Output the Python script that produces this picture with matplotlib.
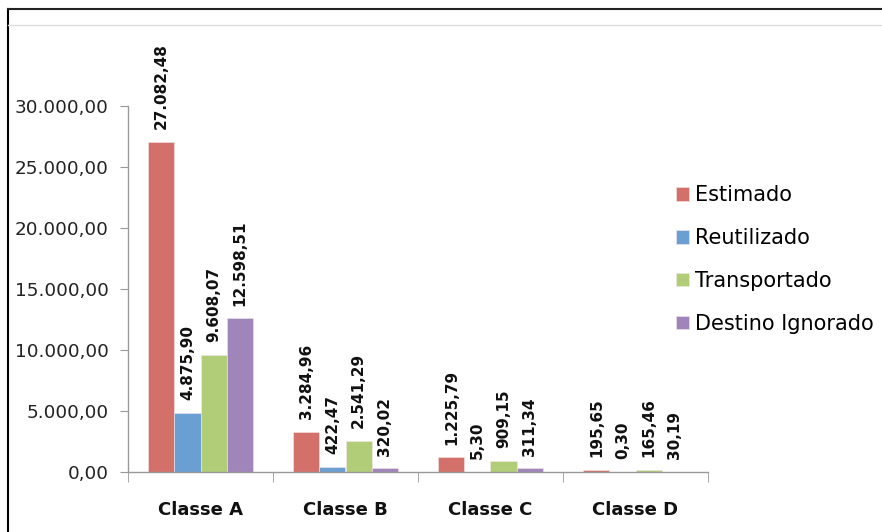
import numpy as np
import matplotlib.pyplot as plt
from matplotlib.lines import Line2D

# Quantities per class and destination
classes = ['Classe A', 'Classe B', 'Classe C', 'Classe D']
series = ['Estimado', 'Reutilizado', 'Transportado', 'Destino Ignorado']
estimado = [27082.48, 3284.96, 1225.79, 195.65]
reutilizado = [4875.90, 422.47, 5.30, 0.30]
transportado = [9608.07, 2541.29, 909.15, 165.46]
ignorado = [12598.51, 320.02, 311.34, 30.19]
colors = ['#d4706a', '#6a9fd3', '#b1cd78', '#a085bb']

values = [estimado, reutilizado, transportado, ignorado]


def br(v):
    # Brazilian number format: 27.082,48
    s = f"{v:,.2f}"
    return s.replace(',', 'X').replace('.', ',').replace('X', '.')


fig = plt.figure(figsize=(8.82, 5.32), dpi=100)
ax = fig.add_axes([128 / 882, 1 - 472 / 532, 580 / 882, 366 / 532])

x = np.arange(len(classes))
width = 0.18
for i, (name, vals, c) in enumerate(zip(series, values, colors)):
    pos = x + (i - 1.5) * width
    ax.bar(pos, vals, width, color=c, edgecolor='#f4e8e8', linewidth=0.4, label=name)
    for px, v in zip(pos, vals):
        ax.annotate(br(v), (px, v), xytext=(0, 9), textcoords='offset points',
                    rotation=90, ha='center', va='bottom', fontsize=11,
                    fontweight='semibold', color='#111111', annotation_clip=False)

ax.set_xlim(-0.5, 3.5)
ax.set_ylim(0, 30000)
ax.set_yticks(np.arange(0, 30001, 5000))
ax.set_yticklabels([br(t) for t in np.arange(0, 30001, 5000)])
ax.set_xticks(x)
ax.set_xticklabels(classes, fontsize=13, fontweight='bold', color='#111111')
ax.set_xticks(np.arange(-0.5, 4, 1), minor=True)
ax.tick_params(axis='x', which='major', length=0, pad=21)
ax.tick_params(axis='x', which='minor', length=7, color='#999999', direction='out')
ax.tick_params(axis='y', length=6, color='#999999', labelsize=13.2,
               labelcolor='#222222', pad=8)

for s in ['top', 'right']:
    ax.spines[s].set_visible(False)
for s in ['left', 'bottom']:
    ax.spines[s].set_color('#999999')
    ax.spines[s].set_linewidth(1)

leg = ax.legend(loc='upper left', bbox_to_anchor=(668 / 882, 1 - 177 / 532),
                bbox_transform=fig.transFigure, frameon=False, fontsize=15,
                handlelength=0.6, handleheight=0.6, handletextpad=0.3,
                labelspacing=1.1, borderaxespad=0)

# outer frame of the chart area
W, H = 882, 532
fig.add_artist(Line2D([8 / W, 8 / W], [0, 1 - 9 / H], color='black', lw=1.5))
fig.add_artist(Line2D([8 / W, 1], [1 - 9 / H, 1 - 9 / H], color='#222222', lw=1.5))
fig.add_artist(Line2D([8 / W, 1], [1 - 25 / H, 1 - 25 / H], color='#dddddd', lw=1))

fig.savefig('out.png', dpi=100)
